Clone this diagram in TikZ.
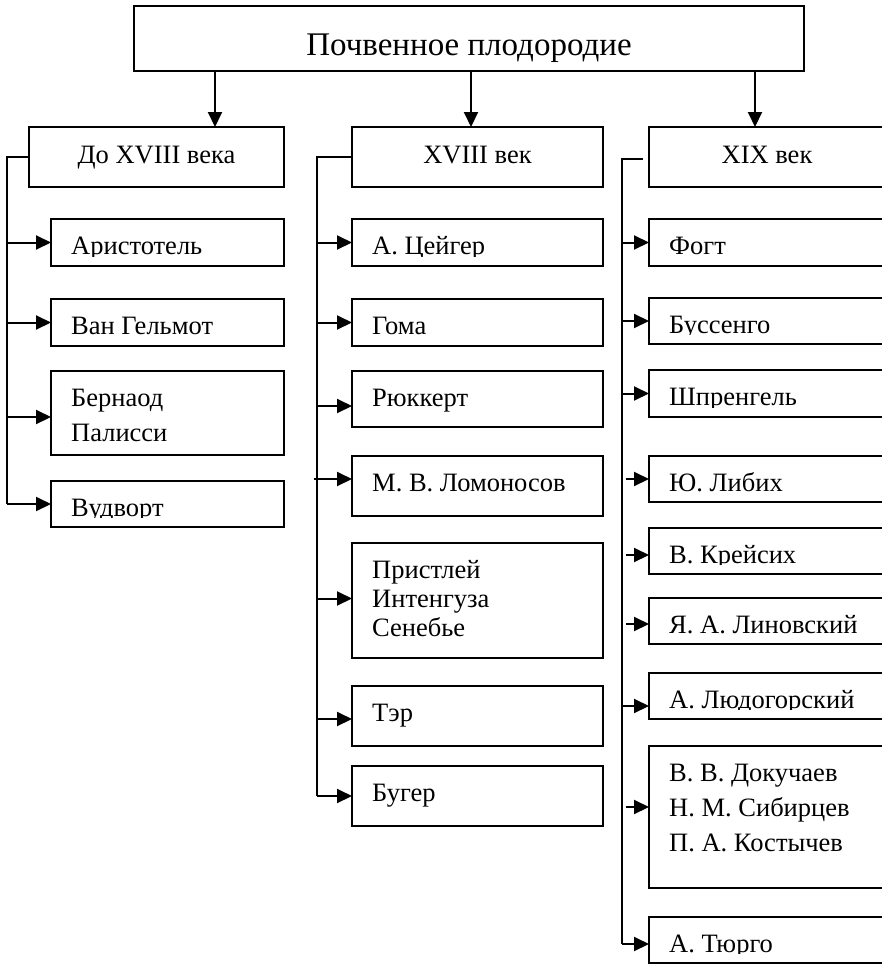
\documentclass[tikz,border=0pt]{standalone}
\usepackage{fontspec}
\setmainfont{Liberation Serif}
\usetikzlibrary{arrows.meta}
\tikzset{
  boxline/.style={draw, line width=2pt, rectangle, inner sep=0pt, outer sep=0pt},
  conn/.style={line width=2pt},
  arr/.style={line width=2pt, -{Triangle[length=15pt,width=14pt]}},
  lbl/.style={inner sep=0pt, font=\fontsize{26.5}{35}\selectfont},
  ttl/.style={inner sep=0pt, font=\fontsize{33}{38}\selectfont},
}
% name, x1, y1, x2, y2 (pixel units, y downward)
\newcommand\mkbox[5]{\node[boxline, minimum width={(#4-#2)*1pt}, minimum height={(#5-#3)*1pt}] (#1) at ({(#2+#4)/2},{(#3+#5)/2}) {};}
% [clip margin] text name, box name, text (clipped like the original text frames)
\newcommand\mktext[4][10pt]{%
  \begin{scope}
    \clip (#3.north west) rectangle ([yshift=#1]#3.south east);
    \node[lbl, anchor=base west] (#2) at ([xshift=20pt, yshift=-35pt]#3.north west) {#4};
  \end{scope}}
% [start offset] arrow from spine to box: box name, yshift, spine coordinate
\newcommand\mkarrow[4][0pt]{%
  \path ([yshift=#3]#2.west) coordinate (#2-in);
  \draw[arr] ([xshift=#1]#4 |- #2-in) -- (#2-in);}
\begin{document}
\begin{tikzpicture}[x=1pt, y=-1pt]
\useasboundingbox (0,0) rectangle (882,964);
\clip (0,0) rectangle (882,964);

% root
\mkbox{root}{134}{6}{804}{71}
\node[ttl, anchor=base] (roottxt) at ([yshift=-49pt]root.north) {Почвенное плодородие};

% level 2
\mkbox{L1}{29}{127}{284}{187}
\mkbox{L2}{352}{127}{603}{187}
\mkbox{L3}{649}{127}{885}{187}
\node[lbl, anchor=base] (L1t) at ([yshift=-36pt]L1.north) {До XVIII века};
\node[lbl, anchor=base] (L2t) at ([yshift=-36pt]L2.north) {XVIII век};
\node[lbl, anchor=base] (L3t) at ([yshift=-36pt]L3.north) {XIX век};

\coordinate (ax1) at (215,0);
\coordinate (ax2) at (471,0);
\coordinate (ax3) at (755,0);
\draw[arr] (root.south -| ax1) -- (L1.north -| ax1);
\draw[arr] (root.south -| ax2) -- (L2.north -| ax2);
\draw[arr] (root.south -| ax3) -- (L3.north -| ax3);

% column 1
\mkbox{a1}{51}{219}{284}{266}
\mkbox{a2}{51}{299}{284}{346}
\mkbox{a3}{51}{371}{284}{455}
\mkbox{a4}{51}{481}{284}{527}
\mktext{a1t}{a1}{Аристотель}
\mktext{a2t}{a2}{Ван Гельмот}
\mktext{a3t}{a3}{\parbox[t]{220pt}{Бернаод\\Палисси}}
\mktext{a4t}{a4}{Вудворт}
\coordinate (s1) at (7,157);
\mkarrow{a1}{0pt}{s1}
\mkarrow{a2}{0pt}{s1}
\mkarrow{a3}{-4pt}{s1}
\mkarrow{a4}{0pt}{s1}
\draw[conn] (L1.west) -- (s1) -- (s1 |- a4-in);

% column 2
\mkbox{b1}{352}{219}{603}{266}
\mkbox{b2}{352}{299}{603}{346}
\mkbox{b3}{352}{371}{603}{427}
\mkbox{b4}{352}{456}{603}{516}
\mkbox{b5}{352}{543}{603}{658}
\mkbox{b6}{352}{686}{603}{746}
\mkbox{b7}{352}{766}{603}{826}
\mktext{b1t}{b1}{А. Цейгер}
\mktext{b2t}{b2}{Гома}
\mktext{b3t}{b3}{Рюккерт}
\mktext{b4t}{b4}{М. В. Ломоносов}
\mktext{b5t}{b5}{\parbox[t]{220pt}{\fontsize{26.5}{29}\selectfont Пристлей\\Интенгуза\\Сенебье}}
\mktext{b6t}{b6}{Тэр}
\mktext{b7t}{b7}{Бугер}
\coordinate (s2) at (317,157);
\mkarrow{b1}{0pt}{s2}
\mkarrow{b2}{0pt}{s2}
\mkarrow{b3}{-7pt}{s2}
\mkarrow[-3pt]{b4}{7pt}{s2}
\mkarrow{b5}{2pt}{s2}
\mkarrow{b6}{-3pt}{s2}
\mkarrow{b7}{0pt}{s2}
\draw[conn] (L2.west) -- (s2) -- (s2 |- b7-in);

% column 3
\mkbox{c1}{649}{219}{885}{266}
\mkbox{c2}{649}{298}{885}{344}
\mkbox{c3}{649}{370}{885}{417}
\mkbox{c4}{649}{456}{885}{502}
\mkbox{c5}{649}{528}{885}{574}
\mkbox{c6}{649}{598}{885}{644}
\mkbox{c7}{649}{673}{885}{719}
\mkbox{c8}{649}{746}{885}{888}
\mkbox{c9}{649}{917}{885}{963}
\mktext{c1t}{c1}{Фогт}
\mktext{c2t}{c2}{Буссенго}
\mktext{c3t}{c3}{Шпренгель}
\mktext{c4t}{c4}{Ю. Либих}
\mktext{c5t}{c5}{В. Крейсих}
\mktext{c6t}{c6}{Я. А. Линовский}
\mktext{c7t}{c7}{А. Людогорский}
\mktext{c8t}{c8}{\parbox[t]{220pt}{В. В. Докучаев\\Н. М. Сибирцев\\П. А. Костычев}}
\mktext{c9t}{c9}{А. Тюрго}
\coordinate (s3) at (622,159);
\mkarrow{c1}{0pt}{s3}
\mkarrow{c2}{0pt}{s3}
\mkarrow{c3}{0pt}{s3}
\mkarrow[4pt]{c4}{0pt}{s3}
\mkarrow[4pt]{c5}{-4pt}{s3}
\mkarrow[4pt]{c6}{-3pt}{s3}
\mkarrow{c7}{-10pt}{s3}
\mkarrow[4pt]{c8}{10pt}{s3}
\mkarrow{c9}{-4pt}{s3}
\draw[conn] ([xshift=-6pt, yshift=-2pt]L3.west) -- (s3) -- (s3 |- c9-in);
\end{tikzpicture}
\end{document}
